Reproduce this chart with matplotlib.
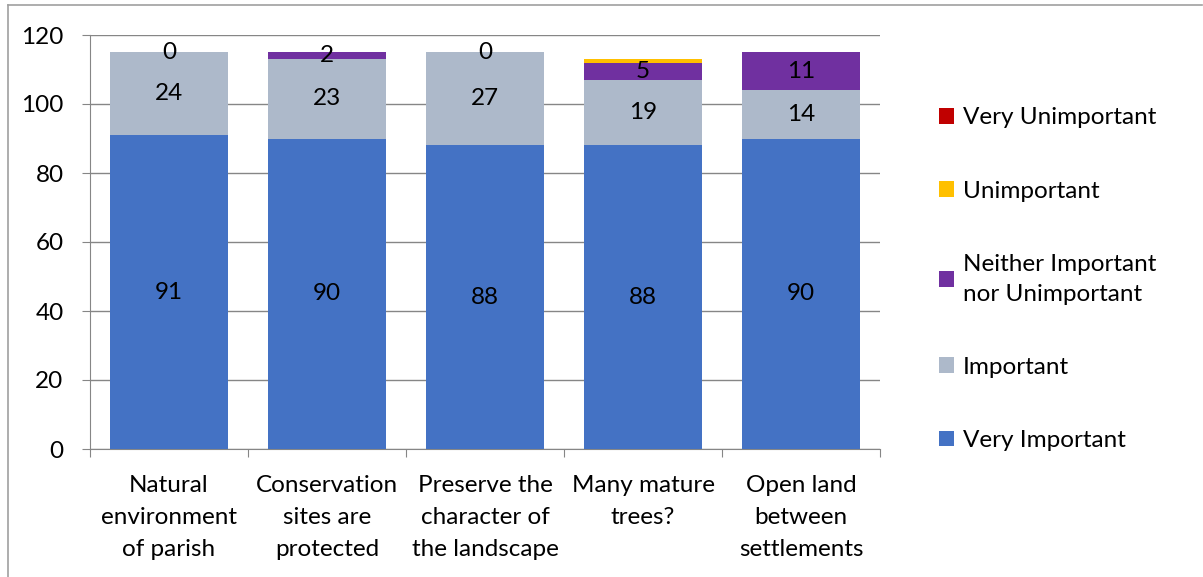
import numpy as np
import matplotlib as mpl
mpl.use('Agg')
import matplotlib.pyplot as plt
from matplotlib.lines import Line2D
from matplotlib.patches import Patch

plt.rcParams['font.family'] = ['Lato', 'DejaVu Sans']

categories = ['Natural\nenvironment\nof parish', 'Conservation\nsites are\nprotected',
              'Preserve the\ncharacter of\nthe landscape', 'Many mature\ntrees?',
              'Open land\nbetween\nsettlements']
very_important = [91, 90, 88, 88, 90]
important = [24, 23, 27, 19, 14]
neither = [0, 2, 0, 5, 11]
unimportant = [0, 0, 0, 1, 0]
very_unimportant = [0, 0, 0, 0, 0]

series = [
    ('Very Important', very_important, '#4472C4', True),
    ('Important', important, '#ADB9CA', True),
    ('Neither Important\nnor Unimportant', neither, '#7030A0', True),
    ('Unimportant', unimportant, '#FFC000', False),
    ('Very Unimportant', very_unimportant, '#C00000', False),
]

FS = 17.5

fig = plt.figure(figsize=(12.03, 5.77), dpi=100)
ax = fig.add_axes([90/1203, 1 - 449/577, 790/1203, (449 - 35)/577])

ind = np.arange(len(categories))
width = 0.75
bottom = np.zeros(len(categories))
handles = []
for name, vals, col, show in series:
    vals = np.array(vals, dtype=float)
    ax.bar(ind, vals, width, bottom=bottom, color=col, zorder=3)
    if show:
        for x, b, v in zip(ind, bottom, vals):
            ax.text(x, b + v / 2, '%d' % v, ha='center', va='center',
                    fontsize=FS, color='black', zorder=4)
    bottom += vals
    handles.append(Patch(facecolor=col, label=name))

ax.set_xlim(-0.5, len(categories) - 0.5)
ax.set_ylim(0, 120)
ax.set_yticks(np.arange(0, 121, 20))
ax.grid(True, axis='y', color='#868686', linewidth=1, zorder=0)

# x ticks between categories, labels centered
ax.set_xticks(np.arange(-0.5, len(categories), 1))
ax.set_xticklabels([])
ax.set_xticks(ind, minor=True)
ax.set_xticklabels(categories, minor=True, fontsize=FS, linespacing=1.65)
ax.tick_params(axis='x', which='minor', length=0, pad=19)
ax.tick_params(axis='x', which='major', length=6, color='#868686', direction='out')
ax.tick_params(axis='y', length=6, color='#868686', labelsize=FS, pad=13)

for s in ['top', 'right']:
    ax.spines[s].set_visible(False)
for s in ['left', 'bottom']:
    ax.spines[s].set_color('#868686')

leg = ax.legend(handles=handles[::-1], loc='center left', bbox_to_anchor=(1.047, 0.41),
                frameon=False, fontsize=FS, labelspacing=2.15, handlelength=0.62,
                handleheight=0.62, handletextpad=0.35)
for t in leg.get_texts():
    t.set_linespacing(1.5)

# chart outline (left and top)
fig.add_artist(Line2D([8/1203, 8/1203], [0, 1 - 5/577], color='#A0A0A0', lw=1.2))
fig.add_artist(Line2D([8/1203, 1202/1203], [1 - 5/577, 1 - 5/577], color='#A0A0A0', lw=1.2))

plt.savefig('out.png', dpi=100)
